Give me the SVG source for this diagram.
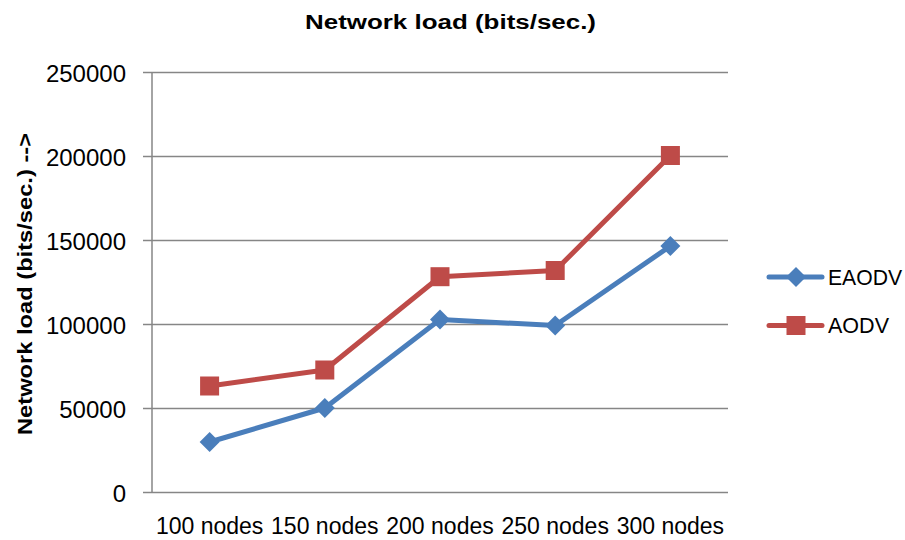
<svg xmlns="http://www.w3.org/2000/svg" width="905" height="540" viewBox="0 0 905 540">
<style>
.grid{stroke:#868686;stroke-width:1.5;fill:none}
.tick{font-family:"Liberation Sans",Arial,sans-serif;font-size:24px;fill:#000;text-anchor:end}
.cat{font-family:"Liberation Sans",Arial,sans-serif;font-size:23px;fill:#000;text-anchor:middle}
.bold{font-family:"Liberation Sans",Arial,sans-serif;font-weight:bold;font-size:20px;fill:#000;text-anchor:middle}
.leg{font-family:"Liberation Sans",Arial,sans-serif;font-size:21.5px;fill:#000}
.s1{stroke:#4A7EBB;stroke-width:5;fill:none;stroke-linejoin:round;stroke-linecap:round}
.s2{stroke:#BE4B48;stroke-width:5;fill:none;stroke-linejoin:round;stroke-linecap:round}
</style>
<defs>
<path id="dia" d="M0,-10 L10,0 L0,10 L-10,0 Z" fill="#4A7EBB"/>
<rect id="sq" x="-9.5" y="-9.5" width="19" height="19" fill="#BE4B48"/>
</defs>
<rect width="905" height="540" fill="#fff"/>
<text class="bold" x="450.5" y="28.5" textLength="291" lengthAdjust="spacingAndGlyphs">Network load (bits/sec.)</text>
<text class="bold" transform="translate(31.5,284) rotate(-90)" x="0" y="0" textLength="302" lengthAdjust="spacingAndGlyphs">Network load (bits/sec.) --&gt;</text>
<g id="axes">
<path class="grid" d="M143,72.5H728M143,156.5H728M143,240.5H728M143,324.5H728M143,408.5H728M143,492.5H728M152,72.5V492.5"/>
</g>
<g id="yticks">
<text class="tick" x="126" y="81.5">250000</text>
<text class="tick" x="126" y="165.5">200000</text>
<text class="tick" x="126" y="249.5">150000</text>
<text class="tick" x="126" y="333.5">100000</text>
<text class="tick" x="126" y="417.5">50000</text>
<text class="tick" x="126" y="501.5">0</text>
</g>
<g id="xcats">
<text class="cat" x="209.6" y="534">100 nodes</text>
<text class="cat" x="324.8" y="534">150 nodes</text>
<text class="cat" x="440" y="534">200 nodes</text>
<text class="cat" x="555.2" y="534">250 nodes</text>
<text class="cat" x="670.4" y="534">300 nodes</text>
</g>
<g id="connectors">
<polyline class="s1" points="209.6,442 324.8,408 440,319.5 555.2,325.5 670.4,246"/>
<polyline class="s2" points="209.6,386 324.8,370 440,276.7 555.2,270.5 670.4,155.5"/>
</g>
<g id="EAODV">
<use href="#dia" x="209.6" y="442"/>
<use href="#dia" x="324.8" y="408"/>
<use href="#dia" x="440" y="319.5"/>
<use href="#dia" x="555.2" y="325.5"/>
<use href="#dia" x="670.4" y="246"/>
</g>
<g id="AODV">
<use href="#sq" x="209.6" y="386"/>
<use href="#sq" x="324.8" y="370"/>
<use href="#sq" x="440" y="276.7"/>
<use href="#sq" x="555.2" y="270.5"/>
<use href="#sq" x="670.4" y="155.5"/>
</g>
<g id="legend">
<line class="s1" x1="769" y1="277" x2="822" y2="277"/>
<use href="#dia" x="796" y="277"/>
<text class="leg" x="828" y="285" textLength="74" lengthAdjust="spacingAndGlyphs">EAODV</text>
<line class="s2" x1="769" y1="325.5" x2="822" y2="325.5"/>
<use href="#sq" x="796" y="325.5"/>
<text class="leg" x="828" y="333" textLength="61" lengthAdjust="spacingAndGlyphs">AODV</text>
</g>
</svg>
